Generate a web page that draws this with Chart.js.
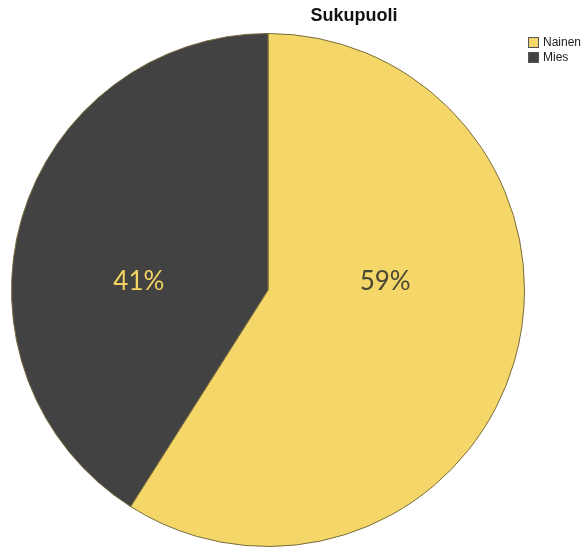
<!DOCTYPE html>
<html>
<head>
<meta charset="utf-8">
<script src="https://cdn.jsdelivr.net/npm/chart.js@4"></script>
<style>
  html, body { margin: 0; padding: 0; background: #fff; }
  #wrap { width: 582px; height: 548px; }
</style>
</head>
<body>
<div id="wrap"><canvas id="sukupuoliChart" width="582" height="548"></canvas></div>
<script>
var labels = ["Nainen", "Mies"];
var values = [59, 41];
var sliceColors = ['rgb(244, 215, 104)', 'rgb(66, 66, 66)'];
var labelColors = ['rgb(74, 70, 52)', 'rgb(242, 210, 96)'];
var chartTitle = "Sukupuoli";

// title, legend and percent labels drawn in the SPSS style
var spssDecor = {
    id: 'spssDecor',
    afterDraw: function (chart) {
        var c = chart.ctx;
        var meta = chart.getDatasetMeta(0);
        var total = values.reduce(function (a, b) { return a + b; }, 0);
        c.save();

        // percent labels, kept on the horizontal through the centre
        c.font = '26px Lato, "DejaVu Sans", sans-serif';
        c.textAlign = 'center';
        c.textBaseline = 'middle';
        meta.data.forEach(function (arc, i) {
            var p = arc.tooltipPosition();
            c.fillStyle = labelColors[i];
            c.fillText(Math.round(values[i] / total * 100) + '%', p.x - 6, arc.y - 8);
        });

        // title
        c.fillStyle = '#111';
        c.font = 'bold 18px "Liberation Sans", Arial, sans-serif';
        c.fillText(chartTitle, 354, 16);

        // legend
        c.font = '12px "Liberation Sans", Arial, sans-serif';
        c.textAlign = 'left';
        labels.forEach(function (lab, i) {
            var y = 37 + i * 15;
            c.fillStyle = sliceColors[i];
            c.fillRect(528.5, y + 0.5, 10, 10);
            c.strokeStyle = '#555';
            c.lineWidth = 1;
            c.strokeRect(528.5, y + 0.5, 10, 10);
            c.fillStyle = '#222';
            c.fillText(lab, 543, y + 5.5);
        });
        c.restore();
    }
};

var ctx = document.getElementById('sukupuoliChart').getContext('2d');

var chart = new Chart(ctx, {
    type: 'pie',
    data: {
        labels: labels,
        datasets: [{
            data: values,
            backgroundColor: sliceColors,
            borderColor: 'rgb(120, 108, 60)',
            borderWidth: 1,
            hoverOffset: 0
        }]
    },
    options: {
        responsive: false,
        animation: false,
        layout: { padding: { left: 11, top: 33, right: 57, bottom: 1 } },
        plugins: {
            legend: { display: false },
            title: { display: false },
            tooltip: { enabled: false }
        }
    },
    plugins: [spssDecor]
});
</script>
</body>
</html>
